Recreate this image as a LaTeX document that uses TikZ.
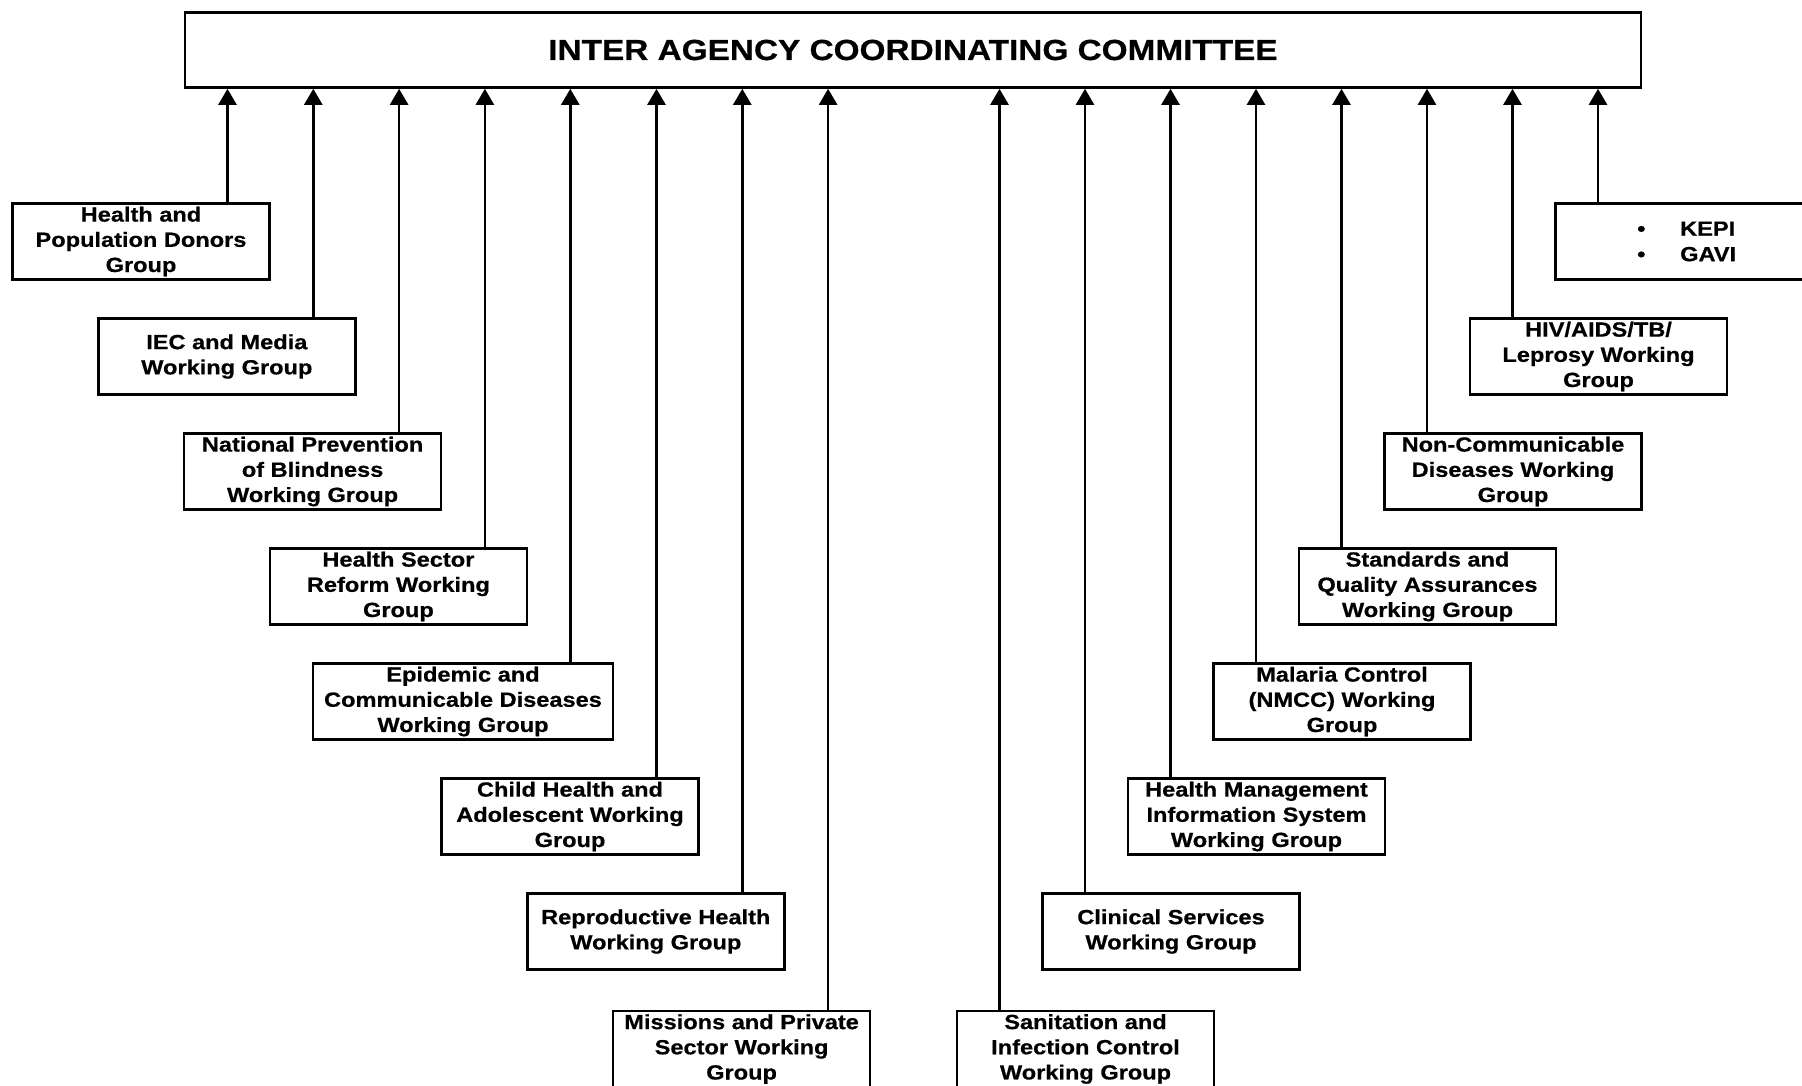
\documentclass[tikz,border=0pt]{standalone}
\usepackage{fontspec}
\setmainfont{Liberation Sans}[FakeStretch=1.15,BoldFeatures={FakeBold=0.6}]
\usetikzlibrary{arrows.meta}

% one upward feeder line from a working group box into the committee box
\newcommand\feed[2]{\draw[feed] ([xshift=#2pt]#1.north) -- ([xshift=#2pt]#1.north |- top.south);}

\begin{document}
\begin{tikzpicture}[x=1pt,y=-1pt,
  box/.style={draw,line width=2.6pt,minimum width=257pt,minimum height=76pt,
    inner sep=0pt,align=center,font=\fontsize{20.5}{25.2}\selectfont\bfseries},
  feed/.style={line width=2.6pt,-{Triangle[width=18pt,length=16pt]}}]
\useasboundingbox (0,0) rectangle (1802,1085);
\clip (0,0) rectangle (1802,1085);

% committee
\node[draw,line width=2.6pt,minimum width=1456pt,minimum height=75pt,inner sep=0pt,
  font=\fontsize{29}{34}\selectfont\bfseries] (top) at (913,50)
  {INTER AGENCY COORDINATING COMMITTEE};

% left-hand working groups
\node[box] (donors)  at (141,241.5)   {Health and\\Population Donors\\Group};
\node[box] (iec)     at (226.8,356.5) {IEC and Media\\Working Group};
\node[box] (blind)   at (312.6,471.5) {National Prevention\\of Blindness\\Working Group};
\node[box] (hsr)     at (398.4,586.5) {Health Sector\\Reform Working\\Group};
\node[box,minimum width=300pt] (epid) at (463,701.5) {Epidemic and\\Communicable Diseases\\Working Group};
\node[box] (child)   at (570,816.5)   {Child Health and\\Adolescent Working\\Group};
\node[box] (repro)   at (655.8,931.5) {Reproductive Health\\Working Group};
\node[box] (mission) at (741.6,1049) {Missions and Private\\Sector Working\\Group};

% right-hand working groups
\node[box] (kepi)    at (1684,241.5)  {};
\node[anchor=west,inner sep=0pt,align=left,font=\fontsize{20.5}{25.5}\selectfont\bfseries]
  (kepilist) at (1637,241.5)
  {\makebox[43pt][l]{\textbullet}KEPI\\\makebox[43pt][l]{\textbullet}GAVI};
\node[box] (hiv)     at (1598.5,356.5) {HIV/AIDS/TB/\\Leprosy Working\\Group};
\node[box] (ncd)     at (1513,471.5)   {Non-Communicable\\Diseases Working\\Group};
\node[box] (quality) at (1427.5,586.5) {Standards and\\Quality Assurances\\Working Group};
\node[box] (malaria) at (1342,701.5)   {Malaria Control\\(NMCC) Working\\Group};
\node[box] (hmis)    at (1256.5,816.5) {Health Management\\Information System\\Working Group};
\node[box] (clinic)  at (1171,931.5)   {Clinical Services\\Working Group};
\node[box] (sanit)   at (1085.5,1049) {Sanitation and\\Infection Control\\Working Group};

% feeder lines
\feed{donors}{86.5}
\feed{iec}{86.5}
\feed{blind}{86.5}
\feed{hsr}{86.5}
\feed{epid}{107.3}
\feed{child}{86.5}
\feed{repro}{86.5}
\feed{mission}{86.5}
\feed{kepi}{-86}
\feed{hiv}{-86}
\feed{ncd}{-86}
\feed{quality}{-86}
\feed{malaria}{-86}
\feed{hmis}{-86}
\feed{clinic}{-86}
\feed{sanit}{-86}
\end{tikzpicture}
\end{document}
